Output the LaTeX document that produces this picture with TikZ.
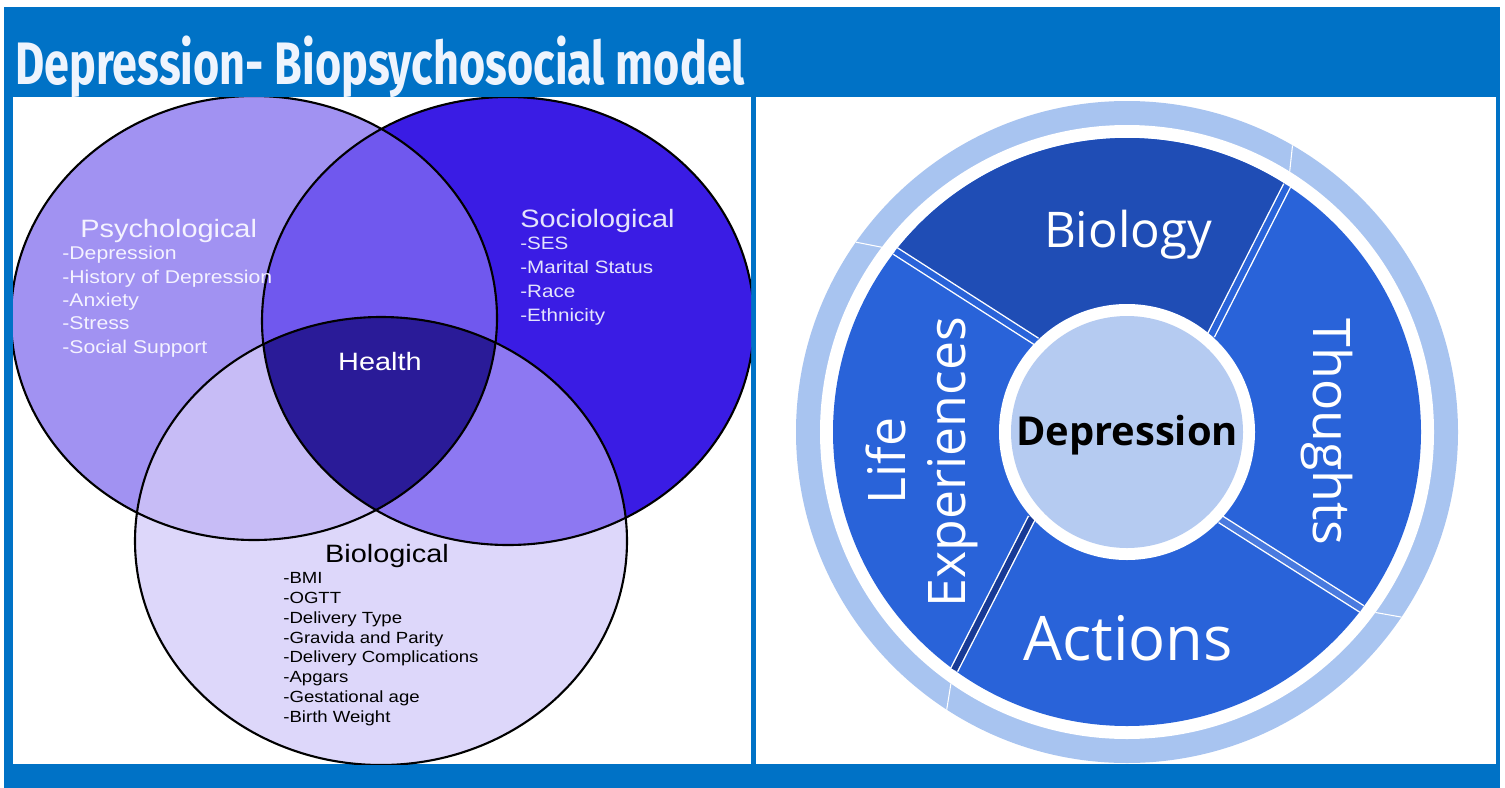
\documentclass[tikz,border=0pt]{standalone}
\usepackage{fontspec}
\setmainfont{Liberation Sans}
\newfontfamily\vennfont[FakeStretch=1.15]{Liberation Sans}
\newfontfamily\ringfont{Open Sans}
\newfontfamily\titlefont[FakeStretch=0.75]{Fira Sans}
\usepackage{tikz}
\usetikzlibrary{positioning}

\definecolor{frameblue}{RGB}{0,114,198}
\definecolor{psycol}{RGB}{161,146,242}
\definecolor{sociocol}{RGB}{58,28,228}
\definecolor{biocol}{RGB}{221,215,250}
\definecolor{pscol}{RGB}{112,88,238}
\definecolor{pbcol}{RGB}{199,188,246}
\definecolor{sbcol}{RGB}{141,120,242}
\definecolor{healthcol}{RGB}{42,27,152}
\definecolor{psytext}{RGB}{244,242,255}
\definecolor{soctext}{RGB}{228,228,252}
\definecolor{ringlight}{RGB}{168,196,240}
\definecolor{wheelblue}{RGB}{41,99,217}
\definecolor{biologyblue}{RGB}{31,77,181}
\definecolor{coreblue}{RGB}{181,203,241}
\definecolor{stripeblue}{RGB}{24,58,150}

\begin{document}
\begin{tikzpicture}[x=0.02cm, y=-0.02cm,
  venn/.style={draw=black, line width=1.2pt},
  vennhead/.style={font=\vennfont\fontsize{14.3pt}{14.3pt}\selectfont, inner sep=0pt},
  vennlist/.style={align=left, inner sep=0pt, anchor=north west},
  ringtext/.style={font=\ringfont\fontsize{29.5pt}{29.5pt}\selectfont, text=white, inner sep=0pt, anchor=base},
  border/.style={draw=white, line width=0.8pt, double distance=3.5pt}]

\useasboundingbox (0,0) rectangle (1505,788);
\fill[white] (0,0) rectangle (1505,788);
\fill[frameblue] (4,7) rectangle (1500,788);
\fill[white] (13,97) rectangle (751,764);
\fill[white] (756,97) rectangle (1496,764);

\node[anchor=base west, inner sep=0pt, text={rgb,255:red,238;green,244;blue,253}] (title) at (15,84)
  {\resizebox{14.6cm}{!}{\titlefont\bfseries\fontsize{30pt}{30pt}\selectfont Depression- Biopsychosocial model}};

% venn diagram
\coordinate (psy) at (254,318);
\coordinate (soc) at (508,321);
\coordinate (bio) at (381,541);
\begin{scope}
  \clip (13,97) rectangle (751,764);
  \fill[psycol] (psy) ellipse [x radius=243, y radius=222];
  \fill[sociocol] (soc) ellipse [x radius=246, y radius=224];
  \fill[biocol] (bio) ellipse [x radius=246, y radius=224];
  \begin{scope}
    \clip (soc) ellipse [x radius=246, y radius=224];
    \fill[sbcol] (bio) ellipse [x radius=246, y radius=224];
  \end{scope}
  \begin{scope}
    \clip (psy) ellipse [x radius=243, y radius=222];
    \fill[pscol] (soc) ellipse [x radius=246, y radius=224];
    \fill[pbcol] (bio) ellipse [x radius=246, y radius=224];
    \clip (soc) ellipse [x radius=246, y radius=224];
    \fill[healthcol] (bio) ellipse [x radius=246, y radius=224];
  \end{scope}
  \draw[venn] (psy) ellipse [x radius=243, y radius=222];
  \draw[venn] (soc) ellipse [x radius=246, y radius=224];
  \draw[venn] (bio) ellipse [x radius=246, y radius=224];
\end{scope}

\node[vennhead, anchor=base west, text=psytext] (psyhead) at (80,237) {Psychological};
\node[vennlist, text=psytext, font=\vennfont\fontsize{10.5pt}{13.3pt}\selectfont] (psylist) at (62,246)
  {-Depression\\-History of Depression\\-Anxiety\\-Stress\\-Social Support};
\node[vennhead, anchor=base west, text=soctext] (sochead) at (520,227) {Sociological};
\node[vennlist, text=soctext, font=\vennfont\fontsize{10.2pt}{13.6pt}\selectfont] (soclist) at (520,237)
  {-SES\\-Marital Status\\-Race\\-Ethnicity};
\node[vennhead, text=white] (health) at (380,362) {Health};
\node[vennhead, anchor=base, text=black] (biohead) at (387,562) {Biological};
\node[vennlist, text=black, font=\vennfont\fontsize{9.2pt}{11.3pt}\selectfont] (biolist) at (283,572)
  {-BMI\\-OGTT\\-Delivery Type\\-Gravida and Parity\\-Delivery Complications\\-Apgars\\-Gestational age\\-Birth Weight};

% wheel
\begin{scope}
  \clip (756,97) rectangle (1496,764);
  \begin{scope}[shift={(1127,432)}]
    \fill[ringlight] (0,0) circle [radius=331];
    \fill[white] (0,0) circle [radius=307];
    \fill[wheelblue] (0,0) circle [radius=294];
    \fill[biologyblue] (-57:294) arc [start angle=-57, end angle=-142, radius=294]
      -- (-135:128) arc [start angle=-135, end angle=-49, radius=128] -- cycle;
    \draw[border, double=wheelblue] (-49:128) -- (-57:294);
    \draw[border, double=wheelblue] (-135:128) -- (-142:294);
    \draw[border, double=stripeblue] (138:128) -- (126:294);
    \draw[border, double=wheelblue!85!white] (43:128) -- (37:294);
    \draw[white, line width=0.6pt] (-58:307) -- (-60:331);
    \draw[white, line width=0.6pt] (-143:307) -- (-145:331);
    \draw[white, line width=0.6pt] (125:307) -- (123:331);
    \draw[white, line width=0.6pt] (36:307) -- (34:331);
    \fill[white] (0,0) circle [radius=128];
    \fill[coreblue] (0,0) circle [radius=116];
  \end{scope}
\end{scope}

\node[ringtext, font=\ringfont\fontsize{28pt}{28pt}\selectfont] (biology) at (1128,247) {Biology};
\node[ringtext, font=\ringfont\fontsize{35pt}{35pt}\selectfont] (actions) at (1128,660) {Actions};
\node[ringtext, rotate=-90] (thoughts) at (1313,432) {Thoughts};
\node[ringtext, rotate=90] (life) at (905,461) {Life};
\node[ringtext, rotate=90] (experiences) at (965,462) {Experiences};
\node[anchor=base, inner sep=0pt, font=\ringfont\bfseries\fontsize{22.7pt}{22.7pt}\selectfont] (depression) at (1127,445) {Depression};
\end{tikzpicture}
\end{document}
